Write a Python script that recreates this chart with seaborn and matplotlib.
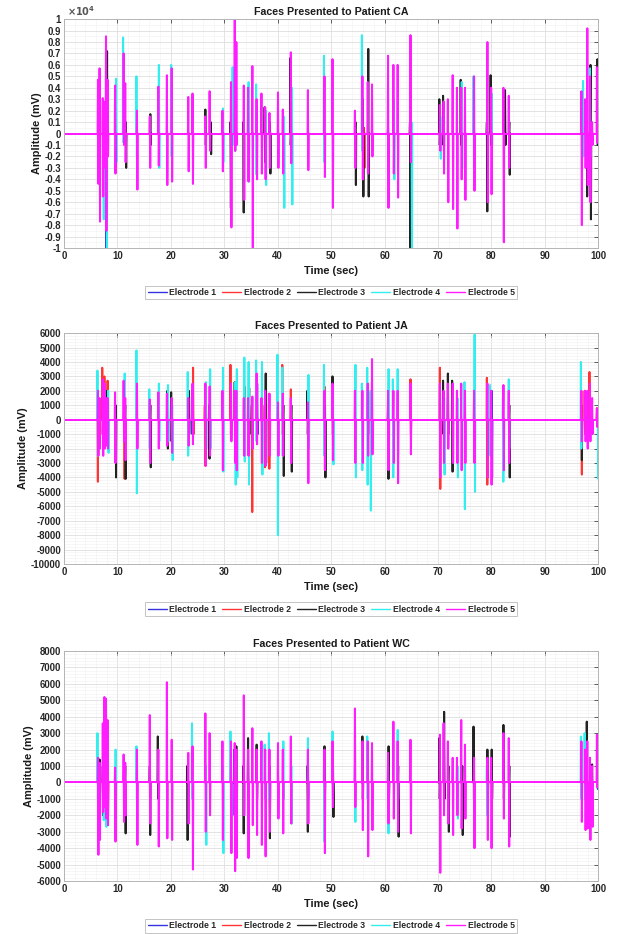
import numpy as np
import pandas as pd
import matplotlib
matplotlib.use("Agg")
import matplotlib.pyplot as plt
from matplotlib.ticker import MultipleLocator, AutoMinorLocator, FuncFormatter
import seaborn as sns

# Electrode names and colours (MATLAB-like)
ELECTRODES = ['Electrode 1', 'Electrode 2', 'Electrode 3', 'Electrode 4', 'Electrode 5']
COLORS = ['#3434e0', '#ff3535', '#222222', '#33eeee', '#ff1cff']
PATIENTS = ['CA', 'JA', 'WC']

# Stimulus burst times (sec), shared by all patients
BURST_T = [6.4, 6.7, 7.3, 7.6, 7.9, 8.2, 9.6, 11.2, 11.5, 13.7, 16.1, 17.7, 19.3, 20.2,
           23.3, 24.1, 26.5, 27.3, 29.7, 31.3, 32.0, 32.3, 33.7, 34.5, 35.3, 36.1, 37.0,
           37.7, 38.5, 40.1, 41.0, 42.5, 45.7, 48.8, 50.3, 54.5, 55.9, 56.9, 57.7, 60.7,
           61.7, 62.5, 64.9, 70.4, 71.1, 71.9, 72.8, 73.6, 74.4, 75.1, 76.8, 79.3, 80.0,
           82.3, 83.3, 96.9, 97.6, 98.0, 98.5, 98.9, 99.8]

# Electrode 5 peaks (mV) at every burst
CA_E5_HI = [4700, 5700, 3100, 2800, 8500, 4700, 4200, 7000, 4400, 2000, 1500, 4100, 5100, 5700,
            3200, 3500, 1500, 3700, 2000, 4500, 10000, 8000, 4200, 4000, 5900, 3000, 3500,
            2300, 1800, 3600, 2100, 7100, 3800, 5000, 6500, 2000, 5000, 4500, 4300, 6800,
            6000, 6000, 8600, 2500, 2800, 3000, 5100, 4000, 4000, 4000, 5000, 8000, 4000,
            4000, 3300, 3700, 3000, 9200, 5000, 1000, 5800]
CA_E5_LO = [-4400, -7700, -5500, -3000, -8500, -2000, -3500, -1000, -2500, -4900, -3000, -2800, -4500, -4200,
            -3300, -4400, -3000, -1500, -3300, -8200, -1500, -1000, -5800, -4200, -10000, -4000, -3500,
            -4000, -3000, -3000, -3500, -2600, -3200, -3800, -6500, -3000, -4000, -3500, -2000, -6500,
            -3500, -5600, -2500, -1500, -3500, -6000, -6600, -8300, -4000, -5800, -5000, -6000, -5300,
            -9500, -3000, -8000, -3000, -4500, -6000, -1000, -800]
JA_E5_HI = [2000, 1500, 2800, 2500, 1500, 1500, 1900, 2700, 1500, 2500, 1400, 1900, 1800, 1500,
            1500, 2500, 2500, 2300, 2000, 2500, 2000, 2000, 1500, 1500, 1600, 3200, 1500,
            2000, 1800, 1200, 1800, 1500, 1200, 2000, 2500, 2000, 2000, 2500, 4200, 2000,
            2000, 2000, 2500, 2500, 2000, 2500, 2500, 2000, 2500, 2000, 2000, 2500, 2000,
            2400, 2000, 2000, 2000, 2000, 2500, 1500, 800]
JA_E5_LO = [-2500, -2000, -2500, -2000, -1800, -2000, -3000, -1500, -2800, -2000, -3000, -2000, -1800, -2300,
            -1800, -1700, -3200, -2500, -3500, -1500, -3000, -3500, -2500, -2500, -2000, -1700, -3000,
            -3200, -2500, -2500, -2500, -3000, -4400, -3500, -2800, -3000, -3000, -2500, -2400, -3500,
            -3000, -4400, -2400, -4000, -3000, -2000, -3000, -3000, -3500, -3000, -3000, -4000, -4500,
            -3500, -3000, -1500, -1500, -2000, -1500, -1000, -500]
WC_E5_HI = [1500, 1200, 3600, 5200, 5100, 3800, 900, 1700, 1200, 2000, 4100, 2000, 6100, 2600,
            1800, 2200, 4200, 3000, 2500, 2500, 2400, 2000, 5300, 2000, 3300, 2000, 2500,
            2000, 2000, 2400, 2000, 2800, 2000, 2000, 2500, 4500, 2500, 2500, 2400, 1800,
            3700, 2500, 2600, 2900, 3600, 2500, 1500, 1500, 3800, 2300, 1500, 1500, 1500,
            3000, 2700, 2500, 2000, 2500, 1500, 1000, 2900]
WC_E5_LO = [-4400, -3500, -1800, -1500, -2200, -2600, -3600, -2400, -2000, -3800, -2500, -3900, -3400, -3500,
            -2500, -5300, -3000, -2000, -3500, -4300, -5400, -4600, -2000, -4600, -2600, -3200, -3800,
            -4500, -3000, -2200, -3100, -2500, -2500, -4300, -1500, -1500, -2900, -4500, -2900, -2500,
            -2200, -3000, -3100, -5500, -2000, -2500, -3200, -2000, -2800, -2200, -4000, -3500, -4000,
            -2200, -3900, -2400, -2900, -2800, -3500, -2700, -300]

# Electrodes 1-4: spikes (time, high, low) where they show past electrode 5
CA_E1 = [(7.9, 1000, -10000), (32.0, 1000, -1500), (60.7, 500, -6200), (99.9, 500, -1000)]
CA_E2 = [(32.1, 1500, -500), (56.2, 500, -3000)]
CA_E3 = [(8.1, 7200, -1000), (11.6, 1000, -3000), (16.2, 1700, -1000), (26.5, 2100, -1000),
         (27.5, 1000, -1800), (31.2, 1000, -6500), (33.6, 1000, -6900), (37.6, 2300, -2500),
         (38.6, 1000, -3500), (42.4, 6600, -1000), (54.6, 1000, -4500), (56.0, 3000, -5500),
         (57.0, 7400, -5500), (64.8, 1000, -10500), (70.3, 3000, -1000), (71.0, 3300, -1000),
         (74.3, 4700, -1000), (79.2, 1000, -6800), (79.9, 5100, -1000), (82.6, 3800, -1000),
         (83.4, 1000, -3600), (97.9, 1000, -5500), (98.6, 6000, -7500), (99.9, 6500, -1000)]
CA_E4 = [(7.4, 2500, -7500), (8.0, 3000, -10500), (9.8, 4800, -2500), (11.1, 8400, -800),
         (13.6, 5000, -2000), (17.8, 6000, -3000), (20.1, 6000, -2000), (29.8, 2200, -2500),
         (31.6, 5800, -1000), (34.6, 4500, -4200), (36.0, 4300, -3600), (37.8, 2000, -4500),
         (41.2, 1500, -6500), (42.7, 4000, -6200), (48.7, 6800, -2500), (55.8, 8600, -1500),
         (61.8, 3000, -4000), (65.1, 1000, -10500), (70.5, 1500, -2200), (74.5, 4500, -3000),
         (76.7, 5000, -3000), (80.1, 3500, -1000), (97.2, 4600, -2000), (98.5, 5700, -2000)]

JA_E1 = [(24.0, 2000, -1000), (36.2, 2500, -1000), (80.1, 2000, -4000)]
JA_E2 = [(6.3, 1000, -4300), (7.2, 3600, -1000), (7.6, 3000, -1000), (8.2, 2700, -1000),
         (11.3, 1000, -4100), (24.2, 3600, -1000), (26.4, 1000, -3200), (31.2, 3800, -1000),
         (35.2, 1000, -6400), (37.6, 1000, -3300), (38.4, 1800, -3400), (40.9, 3800, -1000),
         (42.5, 2100, -1000), (48.8, 2300, -1000), (64.9, 2800, -1000), (70.4, 3600, -4800),
         (79.2, 2900, -4500), (96.9, 1000, -3800), (97.5, 2000, -1000), (98.4, 3300, -1000),
         (99.8, 800, -500)]
JA_E3 = [(7.4, 1500, -1500), (8.1, 2000, -1500), (9.7, 1000, -4000), (11.5, 1000, -4100),
         (16.2, 1000, -3300), (19.4, 2000, -2000), (20.1, 1900, -1500), (23.4, 2000, -1000),
         (27.2, 1000, -2700), (32.0, 2600, -1000), (33.8, 2300, -1500), (34.7, 2200, -1000),
         (37.8, 3200, -3000), (41.1, 1000, -3900), (42.6, 1000, -3600), (45.6, 2000, -1000),
         (48.9, 1000, -4000), (50.3, 3000, -1000), (56.9, 2100, -1000), (60.7, 1000, -4100),
         (71.0, 2700, -1000), (71.9, 3200, -1000), (72.7, 2700, -3600), (83.4, 1000, -4000),
         (96.9, 1000, -2800)]
JA_E4 = [(6.3, 3400, -2500), (8.3, 2000, -2300), (11.4, 3200, -1000), (13.6, 4800, -5100),
         (16.0, 2100, -2000), (17.8, 2500, -1500), (19.5, 2400, -1500), (20.3, 1000, -2800),
         (23.2, 3300, -2500), (26.6, 2600, -2000), (27.4, 3500, -2000), (29.8, 3600, -3600),
         (32.1, 2600, -4500), (32.4, 3500, -4000), (33.8, 4300, -2900), (34.6, 4000, -4500),
         (36.0, 4100, -1500), (37.1, 4000, -3800), (40.0, 4500, -8000), (40.9, 3600, -2500),
         (45.8, 3100, -2000), (48.7, 3800, -2500), (50.4, 2000, -3100), (54.6, 3800, -4000),
         (55.8, 2500, -3500), (56.8, 3600, -4500), (57.4, 2000, -6300), (60.8, 3500, -2000),
         (61.6, 2800, -4000), (62.5, 3500, -2500), (71.2, 1500, -3800), (73.7, 1500, -4000),
         (75.0, 2600, -6200), (76.9, 5900, -5000), (79.8, 2400, -2500), (82.2, 1500, -4300),
         (83.3, 2800, -2000), (96.8, 4000, -2000), (100.0, 500, -4100)]

WC_E1 = [(31.9, 2000, -2000), (99.9, 500, -400)]
WC_E2 = [(8.2, 1000, -2000)]
WC_E3 = [(6.7, 1400, -1000), (7.3, 1000, -2000), (11.5, 1000, -3100), (16.1, 1000, -3200),
         (17.6, 2800, -1000), (23.1, 1000, -3500), (32.3, 2200, -1000), (33.6, 1000, -3100),
         (34.5, 2700, -1000), (36.1, 2300, -1000), (38.5, 1000, -3400), (45.6, 1000, -3000),
         (48.8, 2200, -1000), (50.4, 1000, -2100), (55.9, 2800, -1000), (60.8, 2200, -1000),
         (62.6, 1000, -3300), (70.3, 2700, -1000), (71.2, 4300, -1000), (72.0, 1000, -3000),
         (74.6, 1000, -3200), (76.7, 3400, -1000), (79.3, 2000, -1000), (80.1, 2000, -1000),
         (82.3, 3500, -1000), (83.4, 1000, -3300), (97.9, 3700, -1000), (98.9, 1100, -1000)]
WC_E4 = [(6.3, 3000, -1000), (7.4, 1000, -2300), (7.9, 1000, -2700), (9.7, 2000, -1000),
         (13.6, 2200, -1000), (24.0, 3600, -1000), (26.6, 1000, -3800), (29.8, 1000, -4300),
         (31.2, 3100, -1000), (37.6, 2300, -1000), (38.4, 3000, -1000), (41.1, 2500, -1000),
         (42.6, 1000, -2500), (45.7, 2700, -1000), (48.7, 1000, -3600), (50.3, 3100, -1000),
         (54.5, 1000, -2400), (56.8, 2800, -1000), (60.7, 1000, -3100), (62.5, 3200, -1000),
         (73.7, 1000, -2200), (79.2, 1000, -2000), (96.8, 2800, -1000), (97.5, 3000, -1000)]

Y_LIMITS = {'CA': (-10000, 10000), 'JA': (-10000, 6000), 'WC': (-6000, 8000)}

SPIKES = {
    'CA': [CA_E1, CA_E2, CA_E3, CA_E4, list(zip(BURST_T, CA_E5_HI, CA_E5_LO))],
    'JA': [JA_E1, JA_E2, JA_E3, JA_E4, list(zip(BURST_T, JA_E5_HI, JA_E5_LO))],
    'WC': [WC_E1, WC_E2, WC_E3, WC_E4, list(zip(BURST_T, WC_E5_HI, WC_E5_LO))],
}


def spikes_to_trace(spikes, name, baseline):
    # each spike is its own unit: 0 -> high -> low -> 0
    rows = []
    for k, (ts, hi, lo) in enumerate(sorted(spikes)):
        for tt, yy in zip([ts - 0.1, ts - 0.04, ts + 0.04, ts + 0.1], [0.0, hi, lo, 0.0]):
            rows.append((tt, yy, name, f'{name}-{k}'))
    if baseline:
        # zero line across the whole record (electrode 5 sits on top)
        rows += [(0.0, 0.0, name, f'{name}-base'), (100.0, 0.0, name, f'{name}-base')]
    return pd.DataFrame(rows, columns=['Time', 'Amp', 'Electrode', 'Unit'])


sns.set_theme(style='white')
plt.rcParams['font.family'] = ['Liberation Sans', 'DejaVu Sans']
plt.rcParams['font.weight'] = 'bold'

fig = plt.figure(figsize=(6.19, 9.34), dpi=100)
positions = [[0.1034, 0.7345, 0.863, 0.245],
             [0.1034, 0.3961, 0.863, 0.2473],
             [0.1034, 0.0567, 0.863, 0.2463]]

for pat, pos in zip(PATIENTS, positions):
    ax = fig.add_axes(pos)
    df = pd.concat([spikes_to_trace(s, n, n == ELECTRODES[-1])
                    for s, n in zip(SPIKES[pat], ELECTRODES)], ignore_index=True)
    sns.lineplot(data=df, x='Time', y='Amp', hue='Electrode', hue_order=ELECTRODES,
                 units='Unit', palette=COLORS, sort=False, estimator=None,
                 linewidth=1.45, ax=ax)

    ax.set_xlim(0, 100)
    ax.set_ylim(*Y_LIMITS[pat])
    ax.xaxis.set_major_locator(MultipleLocator(10))
    ax.xaxis.set_minor_locator(AutoMinorLocator(5))
    ax.yaxis.set_major_locator(MultipleLocator(1000))
    ax.yaxis.set_minor_locator(AutoMinorLocator(5 if pat != 'CA' else 2))
    if pat == 'CA':
        ax.yaxis.set_major_formatter(FuncFormatter(lambda v, p: f'{round(v / 1e4, 1):g}'))
        ax.text(0.005, 1.003, r'$\times10^{4}$', transform=ax.transAxes, ha='left',
                va='bottom', fontsize=7, color='#555555', fontweight='normal')
    else:
        ax.yaxis.set_major_formatter(FuncFormatter(lambda v, p: f'{int(round(v))}'))

    ax.grid(which='major', color='#dedede', linewidth=0.6)
    ax.grid(which='minor', color='#f1f1f1', linewidth=0.4)
    ax.set_axisbelow(True)
    ax.tick_params(which='major', direction='in', length=3, top=True, right=True,
                   labelsize=6.9, colors='#262626', pad=2, width=0.5)
    ax.tick_params(which='minor', length=0)
    for sp in ax.spines.values():
        sp.set_color('#b5b5b5')
        sp.set_linewidth(0.7)
    for lbl in ax.get_xticklabels() + ax.get_yticklabels():
        lbl.set_fontweight('bold')

    ax.set_title(f'Faces Presented to Patient {pat}', fontsize=7.7, fontweight='bold',
                 color='#1a1a1a', pad=3)
    ax.set_xlabel('Time (sec)', fontsize=7.9, fontweight='bold', color='#1a1a1a', labelpad=4)
    ax.set_ylabel('Amplitude (mV)', fontsize=7.9, fontweight='bold', color='#1a1a1a', labelpad=2)

    sns.move_legend(ax, 'center', bbox_to_anchor=(0.5, -0.195), ncol=5, title=None,
                    frameon=True, fontsize=6.2, handlelength=2.2, handletextpad=0.3,
                    columnspacing=0.7, borderpad=0.25, fancybox=False)
    leg = ax.get_legend()
    leg.get_frame().set_edgecolor('#b5b5b5')
    leg.get_frame().set_linewidth(0.7)
    for txt in leg.get_texts():
        txt.set_fontweight('bold')
    for ln in leg.get_lines():
        ln.set_linewidth(1.0)

fig.savefig('out.png', dpi=100)
